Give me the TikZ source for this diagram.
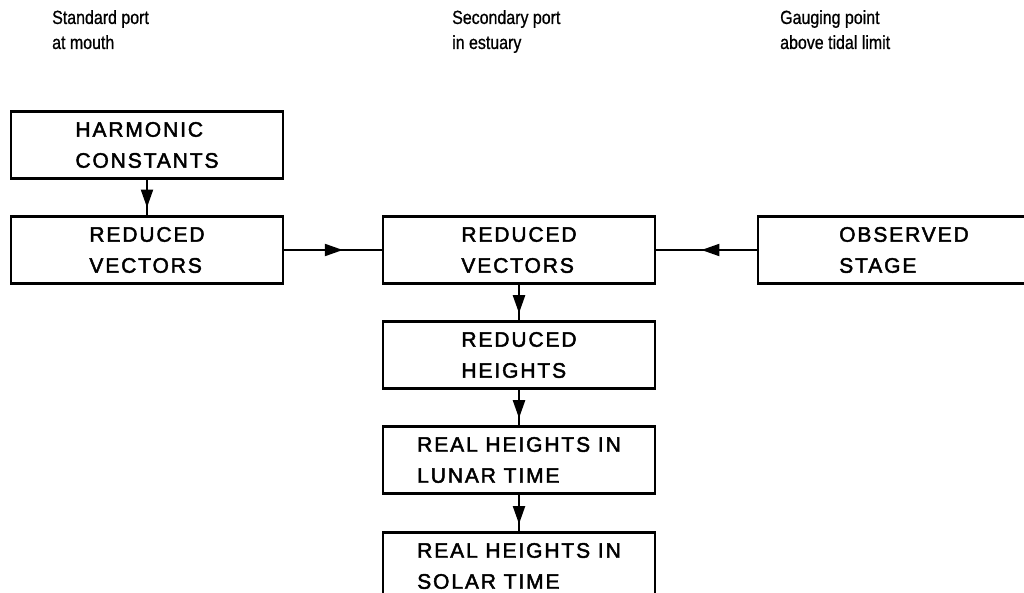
\documentclass[tikz,border=0pt]{standalone}
\usepackage{fontspec}
\setmainfont{Liberation Sans}
\newfontfamily\boxfont[LetterSpace=9, FakeBold=2.2]{Liberation Sans}
\newfontfamily\headfont[FakeStretch=0.84, FakeBold=0.8]{Liberation Sans}
\usetikzlibrary{arrows.meta,decorations.markings}

\begin{document}
\begin{tikzpicture}[x=1pt, y=-1pt,
        stage/.style={draw, line width=2.2pt, inner sep=0pt, align=left,
            minimum width=272pt, minimum height=67pt,
            font=\boxfont\fontsize{21}{31}\selectfont},
        hdr/.style ={anchor=north west, align=left, inner sep=0pt,
            font=\headfont\fontsize{19}{25}\selectfont},
        marr/.style={line width=2.2pt, decoration={markings,
            mark=at position #1 with {\arrow{Triangle[length=18pt, width=12pt]}}},
            postaction={decorate}},]

    \useasboundingbox (0,0) rectangle (1024,593);
    \clip (0,0) rectangle (1024,593);

    \node[hdr] (hStd) at (52, 10)  {Standard port\\at mouth};
    \node[hdr] (hSec) at (452, 10) {Secondary port\\in estuary};
    \node[hdr] (hGau) at (780, 10) {Gauging point\\above tidal limit};

    \node[stage] (harm) at (147, 145) {HARMONIC\\CONSTANTS};
    \node[stage] (redL) at (147, 250) {REDUCED\\VECTORS};
    \node[stage] (redM) at (519, 250) {REDUCED\\VECTORS};
    \node[stage, minimum width=292pt] (obs) at (904, 250) {OBSERVED\\STAGE};
    \node[stage] (hgt)  at (519, 355) {REDUCED\\HEIGHTS};
    \node[stage] (lun)  at (519, 460) {REAL HEIGHTS IN\\LUNAR TIME};
    \node[stage] (sol)  at (519, 566) {REAL HEIGHTS IN\\SOLAR TIME};

    \draw[marr=0.78] (harm) -- (redL);
    \draw[marr=0.6]  (redL) -- (redM);
    \draw[marr=0.55] (obs)  -- (redM);
    \draw[marr=0.8]  (redM) -- (hgt);
    \draw[marr=0.8]  (hgt)  -- (lun);
    \draw[marr=0.8]  (lun)  -- (sol);
\end{tikzpicture}
\end{document}
